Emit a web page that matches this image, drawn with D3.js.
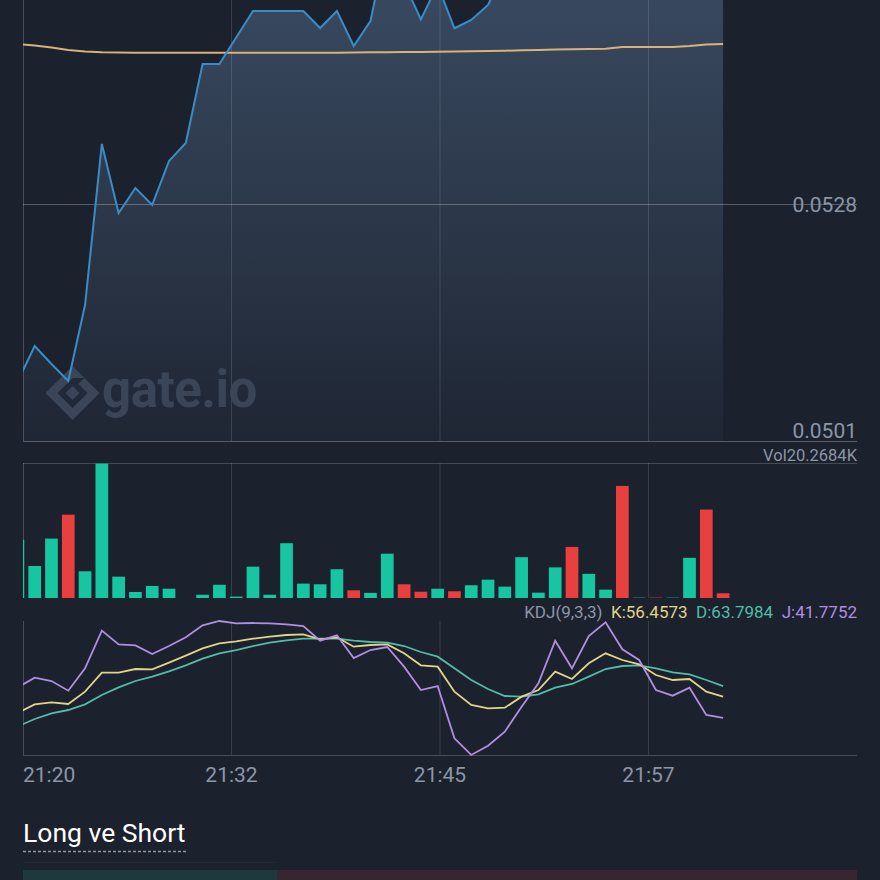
<!DOCTYPE html>
<html><head><meta charset="utf-8">
<script src="https://cdn.jsdelivr.net/npm/d3@7"></script>
<style>
html,body{margin:0;padding:0;background:#1b212d;}
svg{display:block;}
text{font-family:Roboto,"Noto Sans",sans-serif;}
</style></head><body>
<svg id="chart" width="880" height="880"></svg>
<script>
// ---------- data ----------
const timeLabels = ["21:20", "21:32", "21:45", "21:57"];
const priceTicks = [0.0528, 0.0501];
const price = [
  0.050784, 0.051182, 0.050977, 0.050784, 0.051649, 0.053484, 0.052697, 0.052982, 0.052789, 0.053290,
  0.053495, 0.054395, 0.054395, 0.054697, 0.054999, 0.054999, 0.054999, 0.054999, 0.054805, 0.054999,
  0.054600, 0.054885, 0.055808, 0.055318, 0.054904, 0.055295, 0.054802, 0.054896, 0.055067, 0.055466,
  0.055637, 0.055694, 0.055865, 0.055751, 0.055922, 0.056093, 0.055751, 0.055762, 0.055751, 0.055762,
  0.055922, 0.055580, 0.055557];
const ma = [
  0.054623, 0.054606, 0.054583, 0.054554, 0.054537, 0.054528, 0.054525, 0.054524, 0.054524, 0.054524,
  0.054524, 0.054524, 0.054524, 0.054524, 0.054524, 0.054524, 0.054524, 0.054524, 0.054524, 0.054524,
  0.054526, 0.054528, 0.054530, 0.054532, 0.054533, 0.054535, 0.054537, 0.054541, 0.054543, 0.054546,
  0.054551, 0.054554, 0.054559, 0.054562, 0.054566, 0.054569, 0.054588, 0.054588, 0.054588, 0.054588,
  0.054600, 0.054618, 0.054623];
const volume = [
  251, 138, 256, 359, 115, 579, 92, 26, 52, 40,
  0, 14, 57, 6, 135, 14, 236, 62, 59, 124,
  33, 22, 191, 59, 27, 40, 29, 55, 79, 49,
  176, 23, 132, 220, 104, 36, 483, 1.5, 1.5, 1.5,
  173, 381, 20.2684];
const volumeUp = [
  1, 1, 1, 0, 1, 1, 1, 1, 1, 1,
  1, 1, 1, 1, 1, 1, 1, 1, 1, 1,
  0, 1, 1, 0, 0, 1, 0, 1, 1, 1,
  1, 1, 1, 0, 1, 1, 0, 1, 0, 1,
  1, 0, 0];
const kValues = [
  45.42, 51.19, 52.57, 51.42, 59.96, 73.12, 73.12, 75.66, 75.43, 80.04,
  84.89, 89.97, 93.43, 94.82, 96.66, 98.05, 99.20, 99.66, 96.20, 97.59,
  91.12, 92.28, 92.74, 86.51, 78.20, 77.27, 59.96, 50.73, 48.42, 48.88,
  56.50, 61.11, 73.81, 68.73, 79.58, 86.51, 81.89, 78.89, 71.50, 68.04,
  68.73, 59.96, 56.4573];
const dValues = [
  35.95, 41.03, 44.95, 47.26, 51.19, 57.65, 62.96, 67.35, 70.35, 74.04,
  78.20, 82.81, 86.51, 88.81, 91.58, 93.89, 95.51, 96.66, 96.66, 96.66,
  95.28, 94.35, 93.89, 91.58, 87.43, 84.20, 76.12, 68.04, 61.81, 56.96,
  56.50, 58.11, 62.73, 65.27, 70.35, 75.66, 77.73, 78.20, 76.12, 73.35,
  71.96, 68.04, 63.7984];
const jValues = [
  62.96, 69.65, 67.35, 60.65, 76.12, 102.2, 92.74, 92.05, 86.04, 91.58,
  97.59, 105.9, 108.9, 107.28, 107.51, 107.28, 106.59, 105.43, 95.28, 98.97,
  83.27, 88.81, 90.89, 77.27, 61.11, 63.88, 27.64, 16.10, 22.56, 32.26,
  49.57, 65.73, 95.28, 76.12, 98.51, 107.97, 89.28, 81.89, 61.11, 57.19,
  62.73, 43.80, 41.7752];
const kdjName = "KDJ(9,3,3)";
const sectionTitle = "Long ve Short";
const watermarkText = "gate.io";

// ---------- layout ----------
const L = 23, R = 857;
const svg = d3.select("#chart");
const defs = svg.append("defs");

const x = d3.scaleLinear().domain([0, price.length - 1]).range([17.9, 723.1]);
const yPrice = d3.scaleLinear().domain([0.0501, 0.0528]).range([441, 204]);
const yVol = d3.scaleLinear().domain([0, d3.max(volume)]).range([598, 463.6]);
const yKdj = d3.scaleLinear().domain(d3.extent([...kValues, ...dValues, ...jValues])).range([755, 621]);
const gridX = d3.range(4).map(i => L + i * (R - L) / 4);

function clip(id, y0, y1) {
  defs.append("clipPath").attr("id", id).append("rect")
    .attr("x", L).attr("y", y0).attr("width", R - L).attr("height", y1 - y0);
  return "url(#" + id + ")";
}

// ---------- main price panel ----------
const grad = defs.append("linearGradient").attr("id", "areaGrad")
  .attr("gradientUnits", "userSpaceOnUse").attr("x1", 0).attr("x2", 0).attr("y1", -40).attr("y2", 441);
grad.append("stop").attr("offset", "0%").attr("stop-color", "#3a4b62");
grad.append("stop").attr("offset", "100%").attr("stop-color", "#1f2634");

const main = svg.append("g").attr("clip-path", clip("clipMain", -300, 441));
main.append("path").datum(price)
  .attr("fill", "url(#areaGrad)")
  .attr("d", d3.area().x((d, i) => x(i)).y0(441).y1(d => yPrice(d)));

// grid
const gridG = svg.append("g");
gridG.selectAll("line.v").data(gridX.slice(1)).join("line")
  .attr("x1", d => d).attr("x2", d => d).attr("y1", 0).attr("y2", 441)
  .attr("stroke", "rgba(255,255,255,0.13)").attr("stroke-width", 1);
gridG.append("line").attr("x1", L + 0.5).attr("x2", L + 0.5).attr("y1", 0).attr("y2", 441)
  .attr("stroke", "rgba(255,255,255,0.2)");
gridG.selectAll("line.h").data(priceTicks).join("line")
  .attr("x1", L).attr("x2", R).attr("y1", d => yPrice(d) + 0.5).attr("y2", d => yPrice(d) + 0.5)
  .attr("stroke", "rgba(255,255,255,0.27)").attr("stroke-width", 1);

// watermark
const wm = svg.append("g").attr("fill", "#3a4658");
const cx = 72.5, cy = 393;
wm.append("path").attr("fill-rule", "evenodd")
  .attr("d", `M${cx - 27},${cy} L${cx},${cy - 27} L${cx + 27},${cy} L${cx},${cy + 27} Z
              M${cx - 15},${cy} L${cx},${cy + 15} L${cx + 15},${cy} L${cx + 6},${cy - 9} L${cx + 12},${cy - 15} L${cx},${cy - 15} Z`);
wm.append("path").attr("d", `M${cx - 7},${cy} L${cx},${cy - 7} L${cx + 7},${cy} L${cx},${cy + 7} Z`);
wm.append("text").attr("x", 102).attr("y", 407).attr("font-size", 51).attr("font-weight", 700)
  .attr("letter-spacing", -0.5).attr("font-family", "'Open Sans', Roboto, sans-serif").text(watermarkText);

// lines
const lineG = svg.append("g").attr("clip-path", "url(#clipMain)");
lineG.append("path").datum(ma).attr("fill", "none").attr("stroke", "#d8b27a").attr("stroke-width", 2)
  .attr("d", d3.line().x((d, i) => x(i)).y(d => yPrice(d)));
lineG.append("path").datum(price).attr("fill", "none").attr("stroke", "#3a8cc7").attr("stroke-width", 2)
  .attr("stroke-linejoin", "miter")
  .attr("d", d3.line().x((d, i) => x(i)).y(d => yPrice(d)));

// price labels
const fmt4 = d3.format(".4f");
svg.selectAll("text.price").data(priceTicks).join("text")
  .attr("class", "price")
  .attr("x", R).attr("text-anchor", "end")
  .attr("y", d => yPrice(d) > 430 ? yPrice(d) - 3 : yPrice(d) + 7.5)
  .attr("font-size", 21).attr("fill", "#8b96a7")
  .text(d => fmt4(d));

// ---------- volume panel ----------
const volG = svg.append("g");
volG.append("line").attr("x1", L).attr("x2", R).attr("y1", 463.5).attr("y2", 463.5)
  .attr("stroke", "rgba(255,255,255,0.18)");
volG.append("line").attr("x1", L + 0.5).attr("x2", L + 0.5).attr("y1", 463).attr("y2", 598)
  .attr("stroke", "rgba(255,255,255,0.2)");
volG.selectAll("line.v").data(gridX.slice(1)).join("line")
  .attr("x1", d => d).attr("x2", d => d).attr("y1", 463).attr("y2", 598)
  .attr("stroke", "rgba(255,255,255,0.13)");
const barW = (x(1) - x(0)) * 0.757;
volG.append("g").attr("clip-path", clip("clipVol", 460, 600))
  .selectAll("rect").data(volume).join("rect")
  .attr("x", (d, i) => x(i) - barW / 2).attr("width", barW)
  .attr("y", d => yVol(d)).attr("height", d => Math.max(0, 598 - yVol(d)))
  .attr("fill", (d, i) => volumeUp[i] ? "#17c5a0" : "#e7403f");
svg.append("text").attr("x", R).attr("y", 461).attr("text-anchor", "end")
  .attr("font-size", 16.5).attr("fill", "#8b96a7")
  .text("Vol" + fmt4(volume[volume.length - 1]) + "K");

// ---------- KDJ panel ----------
const kdjG = svg.append("g");
kdjG.append("line").attr("x1", L + 0.5).attr("x2", L + 0.5).attr("y1", 621).attr("y2", 755)
  .attr("stroke", "rgba(255,255,255,0.2)");
kdjG.selectAll("line.v").data(gridX.slice(1)).join("line")
  .attr("x1", d => d).attr("x2", d => d).attr("y1", 621).attr("y2", 755)
  .attr("stroke", "rgba(255,255,255,0.13)");
kdjG.append("line").attr("x1", L).attr("x2", R).attr("y1", 755.5).attr("y2", 755.5)
  .attr("stroke", "rgba(255,255,255,0.2)");
const kdjLines = kdjG.append("g").attr("clip-path", clip("clipKdj", 610, 760));
const kdjSeries = [
  {vals: dValues, color: "#52bcaa"},
  {vals: kValues, color: "#e2d489"},
  {vals: jValues, color: "#b18ee2"}
];
kdjLines.selectAll("path").data(kdjSeries).join("path")
  .attr("fill", "none").attr("stroke", d => d.color).attr("stroke-width", 1.8)
  .attr("d", d => d3.line().x((v, i) => x(i)).y(v => yKdj(v))(d.vals));

// legend, laid out right to left
const last = kValues.length - 1;
const legendItems = [
  {t: kdjName, c: "#8b96a7"},
  {t: "K:" + fmt4(kValues[last]), c: "#e2d489"},
  {t: "D:" + fmt4(dValues[last]), c: "#52bcaa"},
  {t: "J:" + fmt4(jValues[last]), c: "#b18ee2"}
];
let lx = R;
for (let i = legendItems.length - 1; i >= 0; i--) {
  const t = svg.append("text").attr("x", lx).attr("y", 618).attr("text-anchor", "end")
    .attr("font-size", 17).attr("fill", legendItems[i].c).text(legendItems[i].t);
  lx -= t.node().getComputedTextLength() + 8.5;
}

// time axis labels
svg.selectAll("text.time").data(timeLabels).join("text")
  .attr("class", "time")
  .attr("x", (d, i) => gridX[i])
  .attr("text-anchor", (d, i) => i === 0 ? "start" : "middle")
  .attr("y", 782).attr("font-size", 21).attr("fill", "#8b96a7")
  .text(d => d);

// ---------- bottom section ----------
svg.append("text").attr("x", 23).attr("y", 842).attr("font-size", 26.5).attr("fill", "#ffffff")
  .text(sectionTitle);
svg.append("line").attr("x1", 23).attr("x2", 186).attr("y1", 851.5).attr("y2", 851.5)
  .attr("stroke", "#8a94a3").attr("stroke-width", 1.5).attr("stroke-dasharray", "3,2");
svg.append("line").attr("x1", 23).attr("x2", 275).attr("y1", 862.5).attr("y2", 862.5)
  .attr("stroke", "rgba(255,255,255,0.04)");
svg.append("rect").attr("x", 23).attr("y", 870).attr("width", 254).attr("height", 10).attr("fill", "#1c393d");
svg.append("rect").attr("x", 277).attr("y", 870).attr("width", 580).attr("height", 10).attr("fill", "#392433");
</script>
</body></html>
